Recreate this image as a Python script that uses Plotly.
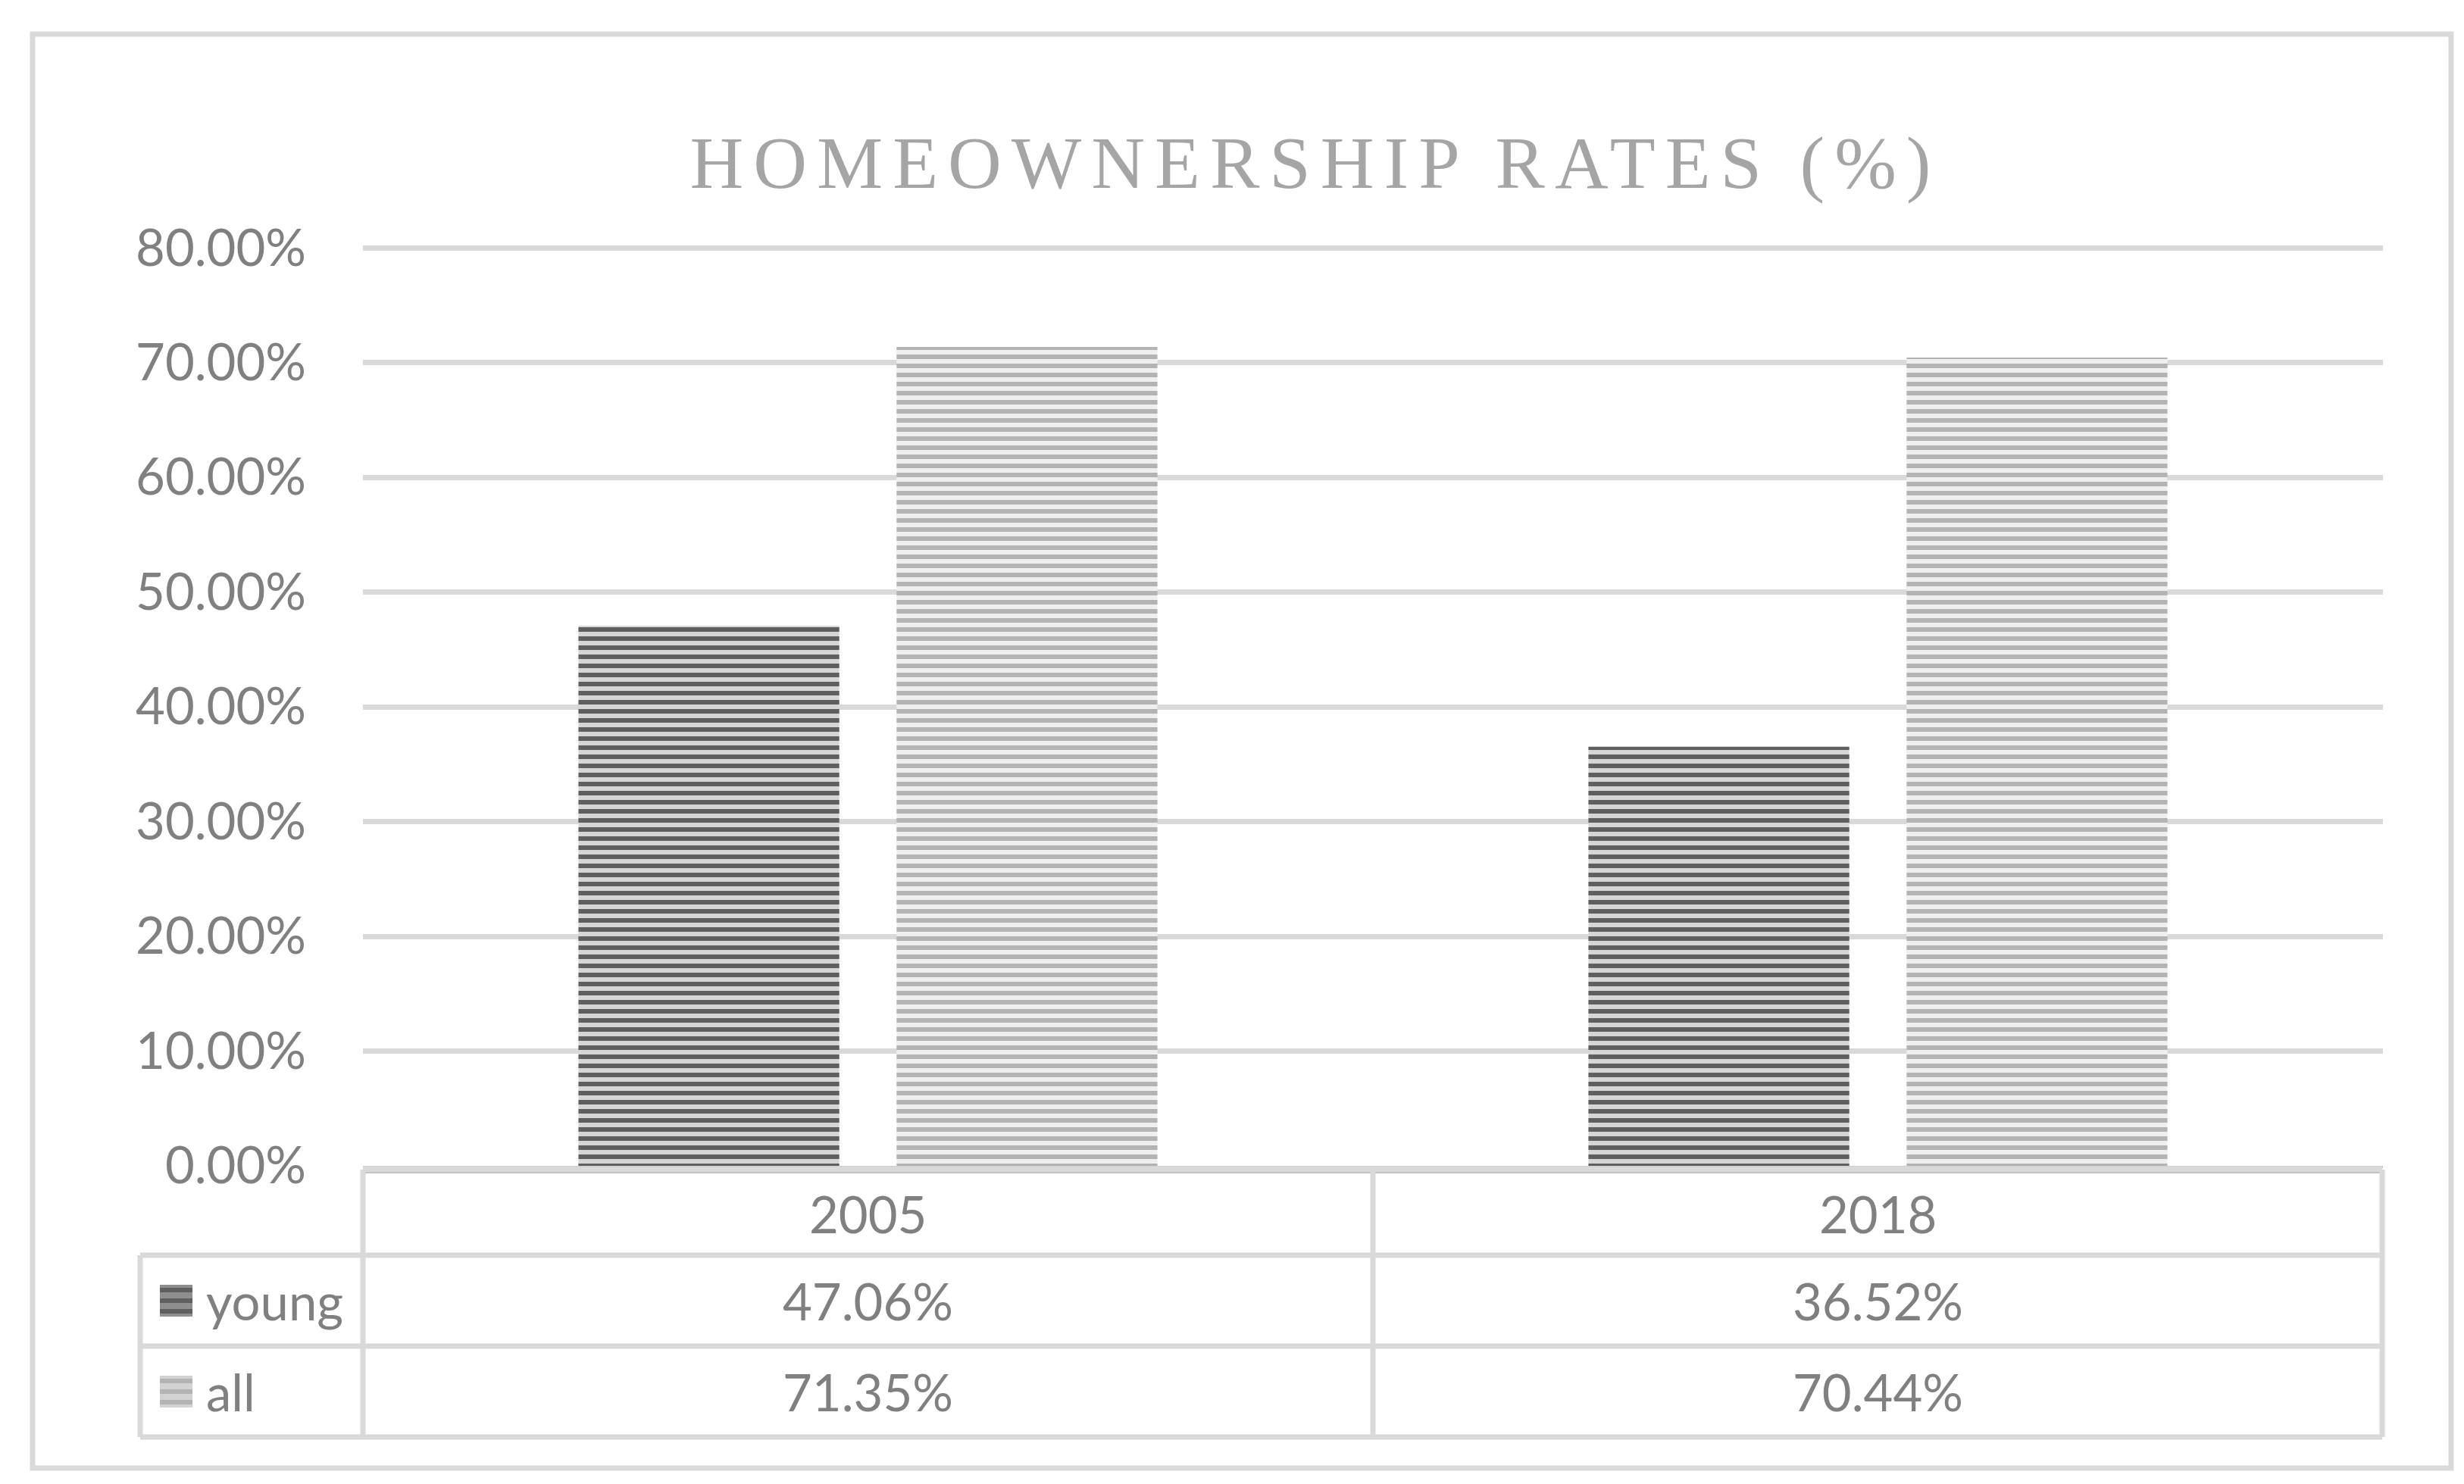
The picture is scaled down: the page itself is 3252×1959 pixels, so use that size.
import plotly.graph_objects as go

# ---------------- data ----------------
years = ["2005", "2018"]
series_names = ["young", "all"]
young = [47.06, 36.52]
all_rates = [71.35, 70.44]
y_ticks = [0, 10, 20, 30, 40, 50, 60, 70, 80]
title_text = "HOMEOWNERSHIP RATES (%)"

# ---------------- layout geometry ----------------
W, H = 3252, 1959
Y_MAX = 80.4
ML, MR, MT, MB = 471, 115, 313, 428
PW = W - ML - MR
PH = H - MT - MB


def px_x(px):
    return (px - ML) / PW


def px_y(py):
    return (H - MB - py) / PH


TEXT = "#808080"
GRID = "#d9d9d9"
FONT = "Lato, Liberation Sans, Arial, sans-serif"
FS = 67

styles = {
    "young": dict(fg="#5f5f5f", bg="#d6d6d6", key_bg="#8e8e8e"),
    "all": dict(fg="#b3b3b3", bg="#efefef", key_bg="#d2d2d2"),
}

fig = go.Figure()
for name, vals in zip(series_names, [young, all_rates]):
    st = styles[name]
    fig.add_trace(go.Bar(
        x=years, y=vals, name=name,
        marker=dict(
            color=st["bg"],
            line=dict(width=0),
            pattern=dict(shape="-", size=12, solidity=0.5,
                         fgcolor=st["fg"], bgcolor=st["bg"], fillmode="replace"),
        ),
        showlegend=False,
    ))

shapes = []
annotations = []

# outer chart border
shapes.append(dict(type="rect", xref="paper", yref="paper",
                   x0=px_x(35), x1=px_x(3227), y0=px_y(1930), y1=px_y(37),
                   line=dict(color=GRID, width=7), fillcolor="rgba(0,0,0,0)", layer="below"))

# data table lines
row_tops = [1536, 1649, 1769, 1889]
x_left_tab, x_right = 177, 3136
lw = dict(color=GRID, width=7)
shapes.append(dict(type="line", xref="paper", yref="paper",
                   x0=0, x1=px_x(x_right), y0=px_y(row_tops[0]), y1=px_y(row_tops[0]),
                   line=dict(color=GRID, width=9)))
shapes.append(dict(type="line", xref="paper", yref="paper",
                   x0=0, x1=px_x(x_right), y0=px_y(1540), y1=px_y(1540),
                   line=dict(color="#c4c4c4", width=2)))
for r in row_tops[1:]:
    shapes.append(dict(type="line", xref="paper", yref="paper",
                       x0=px_x(x_left_tab), x1=px_x(x_right), y0=px_y(r), y1=px_y(r), line=lw))
shapes.append(dict(type="line", xref="paper", yref="paper",
                   x0=px_x(x_left_tab), x1=px_x(x_left_tab), y0=px_y(row_tops[1]), y1=px_y(row_tops[3]), line=lw))
ncat = len(years)
for k in range(ncat + 1):
    xb = k / ncat if k < ncat else px_x(x_right)
    shapes.append(dict(type="line", xref="paper", yref="paper",
                       x0=xb, x1=xb, y0=px_y(row_tops[0]), y1=px_y(row_tops[3]), line=lw))

# header labels (categories) -- positioned by category index on the x axis
hdr_c = (1541 + 1646) / 2
for ci, yr in enumerate(years):
    annotations.append(dict(x=ci, xref="x", y=px_y(hdr_c), yref="paper", text=yr,
                            showarrow=False, font=dict(family=FONT, size=FS, color=TEXT),
                            xanchor="center", yanchor="middle"))

# data rows
for i, (name, vals) in enumerate(zip(series_names, [young, all_rates])):
    yc = (row_tops[i + 1] + row_tops[i + 2]) / 2
    st = styles[name]
    k0, k1 = 203, 246
    shapes.append(dict(type="rect", xref="paper", yref="paper",
                       x0=px_x(k0), x1=px_x(k1), y0=px_y(yc + 21), y1=px_y(yc - 21),
                       fillcolor=st["key_bg"], line=dict(width=0)))
    for s in range(3):
        ys = yc - 14 + s * 14
        shapes.append(dict(type="line", xref="paper", yref="paper",
                           x0=px_x(k0), x1=px_x(k1), y0=px_y(ys), y1=px_y(ys),
                           line=dict(color=st["fg"], width=6)))
    annotations.append(dict(x=px_x(262), xref="paper", y=px_y(yc), yref="paper", text=name,
                            showarrow=False, font=dict(family=FONT, size=FS, color=TEXT),
                            xanchor="left", yanchor="middle"))
    for ci, v in enumerate(vals):
        annotations.append(dict(x=ci, xref="x", y=px_y(yc), yref="paper", text=f"{v:.2f}%",
                                showarrow=False, font=dict(family=FONT, size=FS, color=TEXT),
                                xanchor="center", yanchor="middle"))

fig.update_layout(
    width=W, height=H,
    margin=dict(l=ML, r=MR, t=MT, b=MB),
    paper_bgcolor="white", plot_bgcolor="white",
    barmode="group", bargap=0.37, bargroupgap=0.18,
    title=dict(text=title_text, x=1728 / W, xanchor="center", y=1 - 206 / H, yanchor="middle",
               font=dict(family="Liberation Serif, Times New Roman, serif", size=98, color="#a5a5a5")),
    xaxis=dict(type="category", categoryorder="array", categoryarray=years,
               range=[-0.5, len(years) - 0.5],
               showticklabels=False, showgrid=False, zeroline=False, ticks="",
               showline=True, linecolor="#c4c4c4", linewidth=3),
    yaxis=dict(range=[0, Y_MAX], tickvals=y_ticks, ticktext=[f"{t:.2f}%" for t in y_ticks],
               showgrid=True, gridcolor=GRID, gridwidth=7, zeroline=False, showline=False,
               ticks="", ticklabelstandoff=74,
               tickfont=dict(family=FONT, size=FS, color=TEXT)),
    shapes=shapes, annotations=annotations,
)

post = ("var s=document.createElement('style');"
        "s.innerHTML='.gtitle{letter-spacing:13px;}';"
        "document.head.appendChild(s);")
fig.write_html("out.html", post_script=post)
